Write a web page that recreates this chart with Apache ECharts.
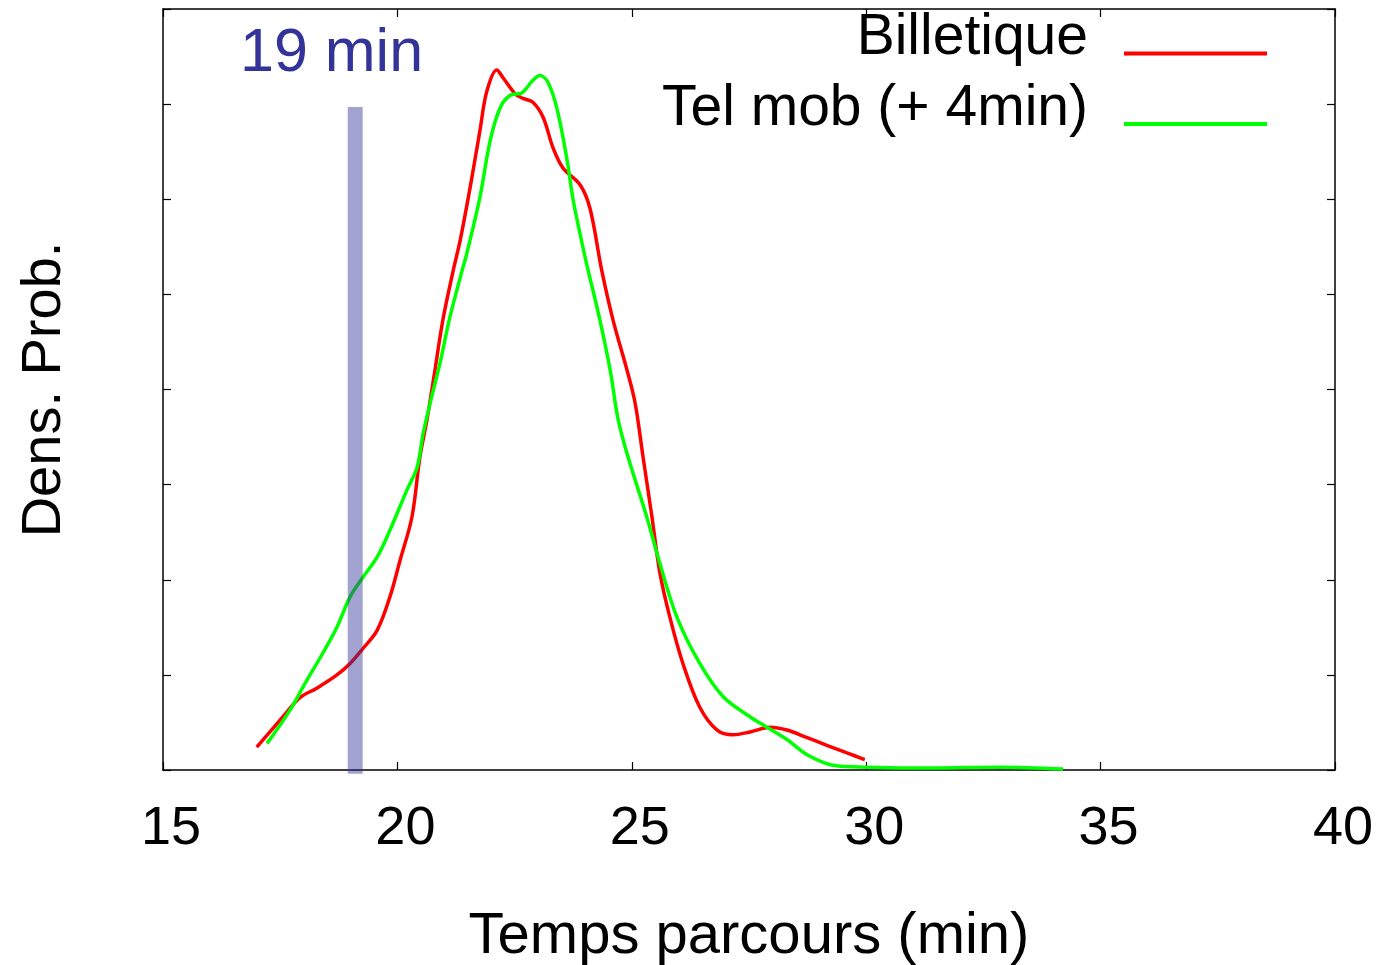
<!DOCTYPE html>
<html>
<head>
<meta charset="utf-8">
<script src="https://cdn.jsdelivr.net/npm/echarts@6/dist/echarts.min.js"></script>
<style>html,body{margin:0;padding:0;background:#fff}#c{width:1389px;height:965px}</style>
</head>
<body>
<div id="c"></div>
<script>
const xTicks = [15, 20, 25, 30, 35, 40];
const seriesNames = ['Billetique', 'Tel mob (+ 4min)'];
const markerLabel = '19 min';
const markerX = [19.1, 19.1];
const markerY = [-0.04, 6.97];

const redX = [17.00,17.56,17.92,18.28,18.71,18.99,19.27,19.57,19.84,20.06,20.31,20.48,20.63,20.80,20.97,21.19,21.34,21.55,21.76,21.91,22.12,22.25,22.51,22.68,22.89,23.11,23.32,23.53,23.90,24.11,24.36,24.60,24.90,25.07,25.24,25.43,25.60,25.81,26.09,26.45,26.82,27.16,27.52,27.95,28.31,28.74,29.16,29.59,29.97];
const redY = [0.24,0.56,0.76,0.86,1.00,1.12,1.28,1.47,1.82,2.21,2.66,3.29,3.68,4.20,4.73,5.25,5.57,6.12,6.72,7.14,7.36,7.28,7.11,7.06,7.02,6.86,6.54,6.33,6.15,5.90,5.25,4.73,4.20,3.86,3.29,2.66,2.07,1.61,1.12,0.66,0.42,0.37,0.40,0.45,0.42,0.34,0.26,0.18,0.11];

const greenX = [17.22,17.71,18.03,18.41,18.71,18.99,19.27,19.57,19.84,20.20,20.42,20.55,20.70,20.91,21.12,21.38,21.48,21.76,21.98,22.19,22.40,22.66,22.89,23.04,23.21,23.40,23.62,23.75,23.96,24.07,24.32,24.54,24.71,24.92,25.32,25.60,25.96,26.45,26.95,27.52,27.88,28.31,28.74,29.29,30.02,31.42,32.85,34.20];
const greenY = [0.28,0.63,0.91,1.23,1.50,1.82,2.03,2.24,2.52,2.94,3.18,3.54,3.86,4.28,4.76,5.25,5.43,6.02,6.62,6.96,7.09,7.12,7.25,7.30,7.23,6.96,6.41,5.99,5.49,5.25,4.73,4.20,3.68,3.29,2.66,2.17,1.61,1.12,0.77,0.56,0.45,0.32,0.16,0.05,0.03,0.02,0.03,0.01];

const zip = (a, b) => a.map((v, i) => [v, b[i]]);
const FONT = '"Liberation Sans", Arial, Helvetica, sans-serif';

const axisCommon = {
  type: 'value',
  axisLine: { show: true, onZero: false, lineStyle: { color: '#000', width: 1.5 } },
  axisTick: { show: true, inside: true, length: 8, lineStyle: { color: '#000', width: 1.2 } },
  splitLine: { show: false }
};

const chart = echarts.init(document.getElementById('c'), null, { renderer: 'canvas' });
chart.setOption({
  animation: false,
  backgroundColor: '#fff',
  textStyle: { fontFamily: FONT },
  grid: { left: 163, right: 54, top: 9, bottom: 195, containLabel: false, outerBoundsMode: 'none' },
  xAxis: [
    Object.assign({}, axisCommon, {
      position: 'bottom', min: xTicks[0], max: xTicks[xTicks.length - 1], interval: 5,
      axisLabel: { show: true, color: '#000', fontSize: 54, fontFamily: FONT, margin: 32, padding: [0, 0, 0, 16] },
      name: 'Temps parcours (min)', nameLocation: 'middle', nameGap: 167,
      nameTextStyle: { color: '#000', fontSize: 58, fontFamily: FONT, verticalAlign: 'middle' }
    }),
    Object.assign({}, axisCommon, {
      position: 'top', min: xTicks[0], max: xTicks[xTicks.length - 1], interval: 5,
      axisLabel: { show: false }
    })
  ],
  yAxis: [
    Object.assign({}, axisCommon, {
      position: 'left', min: 0, max: 8, interval: 1,
      axisLabel: { show: false },
      name: 'Dens. Prob.', nameLocation: 'middle', nameGap: 118,
      nameTextStyle: { color: '#000', fontSize: 56, fontFamily: FONT, verticalAlign: 'middle' }
    }),
    Object.assign({}, axisCommon, {
      position: 'right', min: 0, max: 8, interval: 1,
      axisLabel: { show: false }
    })
  ],
  legend: {
    data: seriesNames,
    orient: 'vertical',
    align: 'right',
    right: 122,
    top: 10,
    padding: 0,
    itemGap: 2,
    icon: 'rect',
    itemWidth: 143,
    itemHeight: 4,
    selectedMode: false,
    formatter: function (name) { return '{t|' + name + '}\n{s| }'; },
    textStyle: {
      color: '#000', fontSize: 57, fontFamily: FONT, padding: [0, 31, 0, 0],
      rich: {
        t: { color: '#000', fontSize: 57, fontFamily: FONT, lineHeight: 40 },
        s: { fontSize: 10, lineHeight: 30 }
      }
    }
  },
  graphic: [{
    type: 'text',
    left: 240,
    top: 24,
    style: { text: markerLabel, fill: '#333399', font: '61px ' + FONT }
  }],
  series: [
    {
      name: seriesNames[0], type: 'line', data: zip(redX, redY),
      xAxisIndex: 0, yAxisIndex: 0,
      showSymbol: false, symbol: 'none', smooth: 0.35,
      lineStyle: { color: '#ff0000', width: 3.5 }, itemStyle: { color: '#ff0000' }, z: 2
    },
    {
      name: seriesNames[1], type: 'line', data: zip(greenX, greenY),
      xAxisIndex: 0, yAxisIndex: 0,
      showSymbol: false, symbol: 'none', smooth: 0.35,
      lineStyle: { color: '#00ff00', width: 3.5 }, itemStyle: { color: '#00ff00' }, z: 2
    },
    {
      name: 'marker', type: 'line', data: zip(markerX, markerY),
      xAxisIndex: 0, yAxisIndex: 0, clip: false, silent: true,
      showSymbol: false, symbol: 'none',
      lineStyle: { color: 'rgba(51,51,153,0.45)', width: 15, cap: 'butt' }, z: 5
    }
  ]
});
</script>
</body>
</html>
